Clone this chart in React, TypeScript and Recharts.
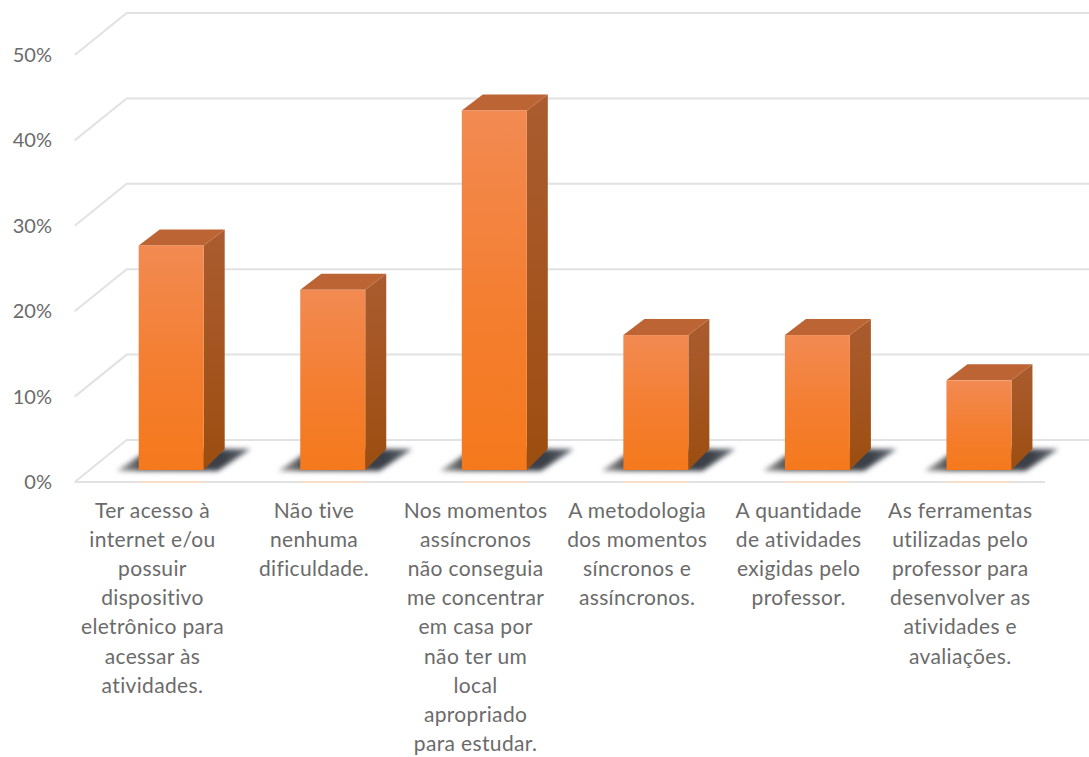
import { BarChart, Bar, XAxis, YAxis, CartesianGrid } from 'recharts'

const categoryLines = [
  ['Ter acesso à', 'internet e/ou', 'possuir', 'dispositivo', 'eletrônico para', 'acessar às', 'atividades.'],
  ['Não tive', 'nenhuma', 'dificuldade.'],
  ['Nos momentos', 'assíncronos', 'não conseguia', 'me concentrar', 'em casa por', 'não ter um', 'local', 'apropriado', 'para estudar.'],
  ['A metodologia', 'dos momentos', 'síncronos e', 'assíncronos.'],
  ['A quantidade', 'de atividades', 'exigidas pelo', 'professor.'],
  ['As ferramentas', 'utilizadas pelo', 'professor para', 'desenvolver as', 'atividades e', 'avaliações.'],
]
const percentages = [26.3, 21.1, 42.1, 15.8, 15.8, 10.5]
const percentTicks = [0, 10, 20, 30, 40, 50]

const data = categoryLines.map((lines, i) => ({
  name: lines.join(' '),
  value: percentages[i],
}))

const linesByName = new Map(data.map((d, i) => [d.name, categoryLines[i]]))

const FONT = 'Lato, sans-serif'
const TEXT_COLOR = '#6b6b6b'
const GRID_COLOR = '#e2e2e2'
const PLOT_BOTTOM = 470

// depth of the extruded box
const DEPTH_X = 21
const DEPTH_TOP = 16
const DEPTH_BOTTOM = 21

function Bar3D({ x, y, width, height }: any) {
  const right = x + width
  const bottom = y + height
  return (
    <g>
      <polygon
        points={`${x - 22},${bottom + 1} ${right + 14},${bottom + 1} ${right + 47},${bottom - 21} ${x + 11},${bottom - 21}`}
        fill="url(#floorShadow)"
        filter="url(#soft)"
      />
      <line x1={x} x2={right} y1={bottom + 12} y2={bottom + 12} stroke="#f9dfca" strokeWidth={2} />
      <polygon
        points={`${right},${y} ${right + DEPTH_X},${y - DEPTH_TOP} ${right + DEPTH_X},${bottom - DEPTH_BOTTOM} ${right},${bottom}`}
        fill="url(#barSide)"
      />
      <polygon
        points={`${x},${y} ${x + DEPTH_X},${y - DEPTH_TOP} ${right + DEPTH_X},${y - DEPTH_TOP} ${right},${y}`}
        fill="#bd6434"
      />
      <rect x={x} y={y} width={width} height={height} fill="url(#barFront)" />
    </g>
  )
}

// each horizontal gridline runs along the side wall and then the back wall
function GridLine({ x1, x2, y1 }: any) {
  return (
    <g fill="none" stroke={GRID_COLOR} strokeWidth={2}>
      <polyline points={`${x1 - 16},${y1 + 12} ${x1 + 36},${y1 - 30} ${x2 + 29},${y1 - 30}`} />
      {Math.abs(y1 - PLOT_BOTTOM) < 1 && <line x1={x1 - 16} x2={x2 - 15} y1={y1 + 12} y2={y1 + 12} />}
    </g>
  )
}

function PercentTick({ y, payload }: any) {
  return (
    <text x={52} y={y + 19} textAnchor="end" fontFamily={FONT} fontSize={20} fill={TEXT_COLOR}>
      {`${payload.value}%`}
    </text>
  )
}

function CategoryTick({ x, payload }: any) {
  const lines = linesByName.get(payload.value) ?? []
  return (
    <text textAnchor="middle" fontFamily={FONT} fontSize={21} letterSpacing={0.35} fill={TEXT_COLOR}>
      {lines.map((line, i) => (
        <tspan key={i} x={x - 19} y={518 + i * 29.1}>
          {line}
        </tspan>
      ))}
    </text>
  )
}

export default function App() {
  return (
    <div style={{ position: 'absolute', left: 0, top: 0, background: '#fff' }}>
      <BarChart
        width={1089}
        height={757}
        data={data}
        barSize={65}
        margin={{ top: 43, right: 29, bottom: 0, left: 0 }}
      >
        <defs>
          <linearGradient id="barFront" x1="0" y1="0" x2="0" y2="1">
            <stop offset="0%" stopColor="#f28a52" />
            <stop offset="55%" stopColor="#f47e30" />
            <stop offset="100%" stopColor="#f5791c" />
          </linearGradient>
          <linearGradient id="barSide" x1="0" y1="0" x2="0" y2="1">
            <stop offset="0%" stopColor="#ab5c30" />
            <stop offset="100%" stopColor="#9c4e10" />
          </linearGradient>
          <linearGradient id="floorShadow" x1="0" y1="0" x2="1" y2="0">
            <stop offset="0%" stopColor="#a8a8a8" />
            <stop offset="18%" stopColor="#505050" />
            <stop offset="80%" stopColor="#3a3f47" />
            <stop offset="100%" stopColor="#6b727b" />
          </linearGradient>
          <filter id="soft" x="-20%" y="-40%" width="140%" height="180%">
            <feGaussianBlur stdDeviation="2.4" />
          </filter>
        </defs>
        <CartesianGrid vertical={false} horizontal={(props: any) => <GridLine key={props.key} {...props} />} />
        <XAxis
          dataKey="name"
          height={287}
          axisLine={false}
          tickLine={false}
          interval={0}
          tick={<CategoryTick />}
        />
        <YAxis
          width={90.7}
          domain={[0, 50]}
          ticks={percentTicks}
          axisLine={false}
          tickLine={false}
          tick={<PercentTick />}
        />
        <Bar dataKey="value" isAnimationActive={false} shape={<Bar3D />} />
      </BarChart>
    </div>
  )
}
